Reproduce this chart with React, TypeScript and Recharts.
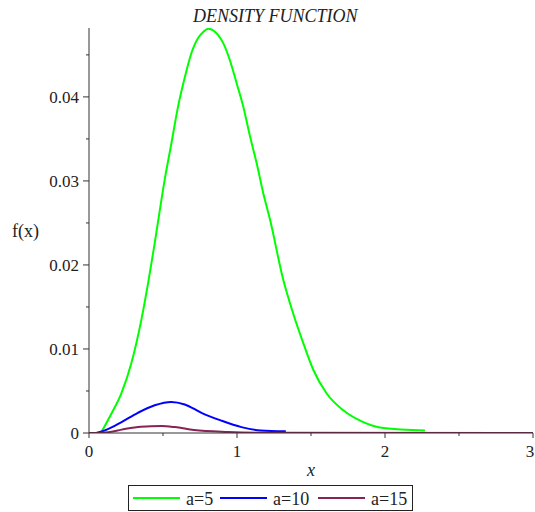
import React from 'react';
import { LineChart, Line, XAxis, YAxis } from 'recharts';

// values
const GREEN_X = [0.08, 0.151, 0.218, 0.286, 0.353, 0.399, 0.444, 0.511, 0.556, 0.6, 0.647, 0.69, 0.737, 0.77, 0.806, 0.84, 0.87, 0.907, 0.953, 0.998, 1.043, 1.088, 1.133, 1.178, 1.223, 1.313, 1.38, 1.448, 1.516, 1.606, 1.718, 1.853, 1.989, 2.27];
const GREEN_Y = [0, 0.0023, 0.0047, 0.0083, 0.0134, 0.0178, 0.0226, 0.0301, 0.0344, 0.0387, 0.0423, 0.0451, 0.047, 0.0477, 0.0481, 0.0479, 0.0474, 0.0464, 0.0443, 0.0416, 0.0388, 0.0353, 0.0321, 0.0285, 0.0254, 0.0182, 0.0142, 0.0107, 0.0075, 0.0047, 0.0027, 0.0013, 0.0006, 0.0003];

const BLUE_X = [0.05, 0.12, 0.22, 0.33, 0.444, 0.556, 0.647, 0.76, 0.89, 1.03, 1.16, 1.33];
const BLUE_Y = [0, 0.0004, 0.0013, 0.0024, 0.0033, 0.0037, 0.0034, 0.0024, 0.0015, 0.0007, 0.0003, 0.0002];

const PURPLE_X = [0, 0.13, 0.22, 0.35, 0.49, 0.58, 0.71, 0.94, 1.2, 3.0];
const PURPLE_Y = [0, 0.0001, 0.0004, 0.00075, 0.00083, 0.0007, 0.00035, 0.00012, 0.00003, 0];

const X_TICKS = [0, 0.5, 1, 1.5, 2, 2.5, 3];
const Y_TICKS = [0, 0.005, 0.01, 0.015, 0.02, 0.025, 0.03, 0.035, 0.04, 0.045];

const SERIES = [
  { name: 'a=5', color: '#00ff00', xs: GREEN_X, ys: GREEN_Y },
  { name: 'a=10', color: '#0000ff', xs: BLUE_X, ys: BLUE_Y },
  { name: 'a=15', color: '#882255', xs: PURPLE_X, ys: PURPLE_Y },
];

const AXIS = '#333';
const FONT = '"Liberation Serif", "DejaVu Serif", serif';
const txt = (size: number, italic = false): React.CSSProperties => ({
  fontFamily: FONT,
  fontSize: size,
  fontStyle: italic ? 'italic' : 'normal',
});

const XTick = (props: any) => {
  const { x, y, payload } = props;
  const major = Number.isInteger(payload.value);
  // the last label sits on the window edge, as in the original
  const tx = payload.value === 3 ? x - 3 : x;
  return (
    <g>
      <line x1={x} x2={x} y1={y} y2={y + (major ? 5 : 3)} stroke={AXIS} />
      {major && (
        <text x={tx} y={y + 24} textAnchor="middle" style={txt(17)} fill="#222">
          {payload.value}
        </text>
      )}
    </g>
  );
};

const YTick = (props: any) => {
  const { x, y, payload } = props;
  const v = payload.value;
  const major = Math.round(v * 1000) % 10 === 0;
  return (
    <g>
      <line x1={x - (major ? 6 : 3)} x2={x} y1={y} y2={y} stroke={AXIS} />
      {major && (
        <text x={x - 10} y={y} dy="0.35em" textAnchor="end" style={txt(17)} fill="#222">
          {v === 0 ? '0' : v.toFixed(2)}
        </text>
      )}
    </g>
  );
};

export default function App() {
  const lines = SERIES.map((s) => ({ ...s, data: s.xs.map((x, i) => ({ x, y: s.ys[i] })) }));

  return (
    <div style={{ position: 'absolute', left: 0, top: 0, width: 535, height: 512, background: '#fff', overflow: 'hidden', fontFamily: FONT }}>
      <LineChart width={535} height={512} margin={{ top: 28, right: 2, bottom: 49, left: 0 }}>
        <XAxis
          type="number"
          dataKey="x"
          domain={[0, 3]}
          ticks={X_TICKS}
          height={30}
          tickSize={0}
          tickMargin={0}
          tickLine={false}
          axisLine={{ stroke: AXIS }}
          tick={<XTick />}
          interval={0}
          allowDataOverflow
        />
        <YAxis
          type="number"
          dataKey="y"
          domain={[0, 0.0482]}
          ticks={Y_TICKS}
          width={89}
          tickSize={0}
          tickMargin={0}
          tickLine={false}
          axisLine={{ stroke: AXIS }}
          tick={<YTick />}
          interval={0}
          allowDataOverflow
        />
        {lines.map((s) => (
          <Line
            key={s.name}
            data={s.data}
            dataKey="y"
            type="monotone"
            stroke={s.color}
            strokeWidth={2}
            dot={false}
            isAnimationActive={false}
          />
        ))}
      </LineChart>
      <svg width={535} height={512} style={{ position: 'absolute', left: 0, top: 0, pointerEvents: 'none' }}>
        <text x={193} y={22} style={txt(18, true)} fill="#222">
          DENSITY FUNCTION
        </text>
        <text x={12} y={237} style={txt(18)} fill="#222">
          f(x)
        </text>
        <text x={311} y={476} textAnchor="middle" style={txt(18, true)} fill="#222">
          x
        </text>
        <rect x={128.5} y={485.5} width={284} height={25} fill="#fff" stroke="#222" />
        {SERIES.map((s, i) => {
          const lx = [133, 220, 318][i];
          return (
            <g key={s.name}>
              <line x1={lx} x2={lx + 47} y1={498} y2={498} stroke={s.color} strokeWidth={2} />
              <text x={lx + 53} y={505} style={txt(18)} fill="#222">
                {s.name}
              </text>
            </g>
          );
        })}
      </svg>
    </div>
  );
}
